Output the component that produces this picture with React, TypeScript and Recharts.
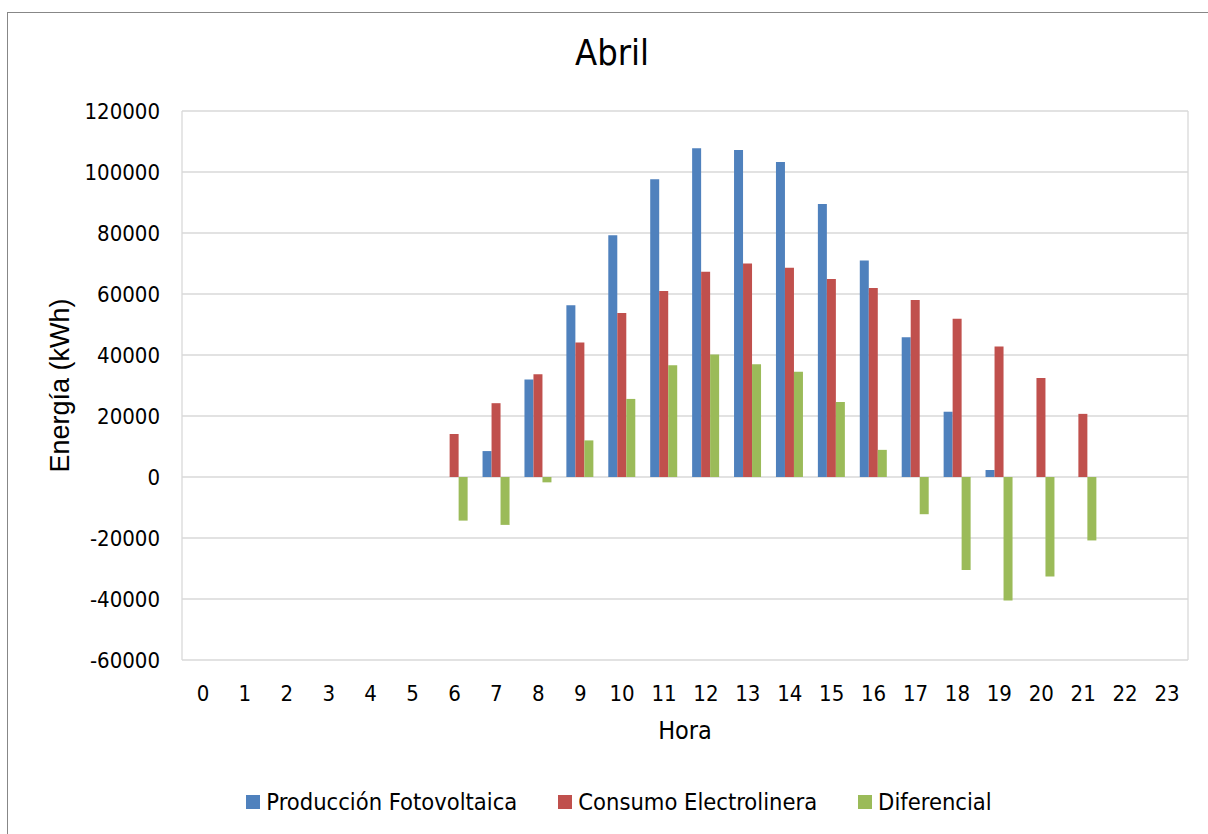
import { BarChart, Bar, XAxis, YAxis, CartesianGrid, Legend } from 'recharts'

const horas = ['0', '1', '2', '3', '4', '5', '6', '7', '8', '9', '10', '11', '12', '13', '14', '15', '16', '17', '18', '19', '20', '21', '22', '23']
const produccion = [0, 0, 0, 0, 0, 0, 0, 8500, 32000, 56300, 79300, 97600, 107800, 107200, 103300, 89500, 71000, 45800, 21400, 2300, 0, 0, 0, 0]
const consumo = [0, 0, 0, 0, 0, 0, 14100, 24200, 33700, 44100, 53800, 61000, 67300, 70000, 68600, 64900, 62000, 58000, 51900, 42800, 32500, 20700, 0, 0]
const diferencial = [0, 0, 0, 0, 0, 0, -14300, -15700, -1750, 12000, 25600, 36600, 40200, 37000, 34500, 24600, 8900, -12200, -30500, -40500, -32600, -20800, 0, 0]
const yTicks = [-60000, -40000, -20000, 0, 20000, 40000, 60000, 80000, 100000, 120000]

const series = [
  { key: 'produccion', name: 'Producción Fotovoltaica', color: '#4F81BD' },
  { key: 'consumo', name: 'Consumo Electrolinera', color: '#C0504D' },
  { key: 'diferencial', name: 'Diferencial', color: '#9BBB59' },
]

const data = horas.map((hora, i) => ({
  hora,
  produccion: produccion[i],
  consumo: consumo[i],
  diferencial: diferencial[i],
}))

const font = '"DejaVu Sans Condensed", "DejaVu Sans", sans-serif'

function LegendContent() {
  return (
    <div style={{ display: 'flex', justifyContent: 'center', paddingLeft: 30, fontFamily: font, fontSize: 23.5, color: '#000' }}>
      {series.map((s, i) => (
        <div key={s.key} style={{ display: 'flex', alignItems: 'center', marginLeft: i === 0 ? 0 : 41 }}>
          <span style={{ display: 'inline-block', width: 14, height: 14, background: s.color, marginRight: 6 }} />
          <span>{s.name}</span>
        </div>
      ))}
    </div>
  )
}

export default function App() {
  return (
    <div style={{ position: 'absolute', left: 0, top: 0, width: 1208, height: 834, overflow: 'hidden', background: '#fff' }}>
      <div style={{ position: 'absolute', left: 7, top: 12, width: 1230, height: 850, border: '1px solid #878787' }} />
      <div style={{ position: 'absolute', left: 0, top: 32, width: 1224, textAlign: 'center', fontFamily: font, fontSize: 36, color: '#000' }}>
        Abril
      </div>
      <div style={{ position: 'absolute', left: 0, top: 0 }}>
        <BarChart
          width={1208}
          height={834}
          data={data}
          margin={{ top: 111, right: 20, bottom: 114, left: 0 }}
          barGap={0}
          barCategoryGap="17%"
        >
          <CartesianGrid
            stroke="#d9d9d9"
            strokeWidth={1.3}
            vertical
            verticalCoordinatesGenerator={({ offset }: any) => [offset.left, offset.left + offset.width]}
          />
          <XAxis
            dataKey="hora"
            height={60}
            axisLine={false}
            tickLine={false}
            tickSize={6}
            tickMargin={19}
            interval={0}
            tick={{ fill: '#000', fontSize: 22, fontFamily: font }}
            label={{
              content: ({ viewBox }: any) => (
                <text
                  x={viewBox.x + viewBox.width / 2}
                  y={viewBox.y + 79}
                  textAnchor="middle"
                  fontFamily={font}
                  fontSize={25}
                  fill="#000"
                >
                  Hora
                </text>
              ),
            }}
          />
          <YAxis
            width={182}
            domain={[-60000, 120000]}
            ticks={yTicks}
            axisLine={false}
            tickLine={false}
            tickSize={6}
            tickMargin={16}
            interval={0}
            tick={{ fill: '#000', fontSize: 22, fontFamily: font }}
            label={{
              content: ({ viewBox }: any) => {
                const cx = 60
                const cy = viewBox.y + viewBox.height / 2
                return (
                  <text
                    x={cx}
                    y={cy}
                    transform={`rotate(-90 ${cx} ${cy})`}
                    textAnchor="middle"
                    dominantBaseline="central"
                    fontFamily='"Liberation Sans", Arial, sans-serif'
                    fontSize={27}
                    fill="#000"
                  >
                    Energía (kWh)
                  </text>
                )
              },
            }}
          />
          <Legend
            layout="horizontal"
            verticalAlign="middle"
            align="center"
            wrapperStyle={{ top: 788, left: 0, width: 1208 }}
            content={<LegendContent />}
          />
          {series.map((s) => (
            <Bar key={s.key} dataKey={s.key} name={s.name} fill={s.color} isAnimationActive={false} />
          ))}
        </BarChart>
      </div>
    </div>
  )
}
